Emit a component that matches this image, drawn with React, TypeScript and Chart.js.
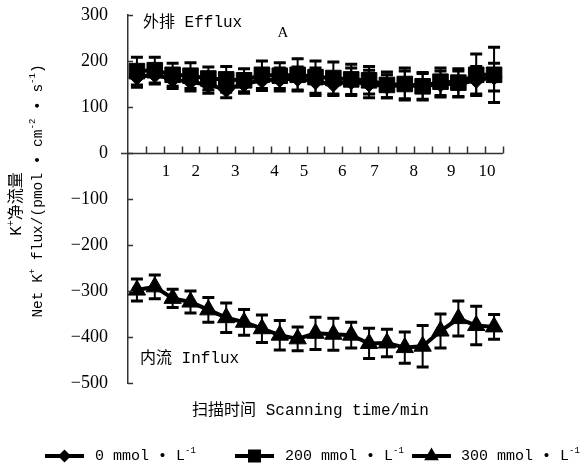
import React, { useEffect, useRef } from 'react';
import { Chart, registerables } from 'chart.js';

Chart.register(...registerables);

// ---------- data ----------
const scanIndex = [1, 2, 3, 4, 5, 6, 7, 8, 9, 10, 11, 12, 13, 14, 15, 16, 17, 18, 19, 20, 21];

const efflux0 = [165, 170, 160, 155, 148, 138, 150, 158, 160, 162, 155, 150, 155, 150, 145, 148, 145, 150, 150, 158, 165];
const efflux0Err = [22, 20, 20, 20, 18, 18, 20, 22, 25, 25, 30, 25, 30, 30, 25, 30, 28, 28, 28, 30, 30];

const efflux200 = [178, 180, 170, 168, 162, 160, 158, 170, 168, 170, 165, 163, 160, 158, 148, 150, 145, 155, 153, 170, 170];
const efflux200Err = [30, 28, 25, 28, 25, 28, 25, 30, 28, 35, 35, 35, 33, 30, 28, 35, 30, 30, 30, 45, 60];

const influx300 = [-298, -291, -316, -324, -341, -358, -368, -382, -396, -404, -392, -394, -396, -414, -413, -423, -420, -387, -360, -375, -378];
const influx300Err = [24, 26, 20, 24, 27, 32, 28, 30, 32, 26, 35, 35, 28, 33, 30, 34, 45, 37, 38, 42, 27];

const xTickLabels = ['1', '2', '3', '4', '5', '6', '7', '8', '9', '10'];
const xTickLabelPos = [2.13, 3.8, 6.0, 8.2, 9.85, 12.0, 13.8, 16.0, 18.1, 20.1];

const yMin = -500;
const yMax = 300;
const yStep = 100;

const seriesNames = ['0 mmol • L', '200 mmol • L', '300 mmol • L'];

// ---------- styling ----------
const MONO = '"Liberation Mono", "Noto Sans CJK SC", monospace';
const SERIF = '"Liberation Serif", "Noto Sans CJK SC", serif';
const AXIS = '#333';

type Seg = { t: string; sup?: boolean };

function segFont(size: number, sup?: boolean) {
  return `${sup ? Math.round(size * 0.62) : size}px ${MONO}`;
}
function richWidth(ctx: CanvasRenderingContext2D, segs: Seg[], size: number) {
  let w = 0;
  for (const s of segs) {
    ctx.font = segFont(size, s.sup);
    w += ctx.measureText(s.t).width;
  }
  return w;
}
function drawRich(ctx: CanvasRenderingContext2D, segs: Seg[], x: number, y: number, size: number, align: 'left' | 'center') {
  const w = richWidth(ctx, segs, size);
  let cx = align === 'center' ? x - w / 2 : x;
  ctx.textAlign = 'left';
  ctx.textBaseline = 'middle';
  ctx.fillStyle = '#000';
  for (const s of segs) {
    ctx.font = segFont(size, s.sup);
    ctx.fillText(s.t, cx, s.sup ? y - size * 0.38 : y);
    cx += ctx.measureText(s.t).width;
  }
}

function drawMarker(ctx: CanvasRenderingContext2D, style: string, x: number, y: number) {
  ctx.beginPath();
  if (style === 'rectRot') {
    const r = 6.5;
    ctx.moveTo(x, y - r); ctx.lineTo(x + r, y); ctx.lineTo(x, y + r); ctx.lineTo(x - r, y);
  } else if (style === 'rect') {
    const h = 6.5;
    ctx.rect(x - h, y - h, 2 * h, 2 * h);
  } else {
    const r = 8.5;
    ctx.moveTo(x, y - r); ctx.lineTo(x + r * 0.866, y + r * 0.5); ctx.lineTo(x - r * 0.866, y + r * 0.5);
  }
  ctx.closePath();
  ctx.fill();
}

const errs = [efflux0Err, efflux200Err, influx300Err];
const styles = ['rectRot', 'rect', 'triangle'];

const decorPlugin = {
  id: 'decor',
  afterDatasetsDraw(chart: any) {
    const ctx: CanvasRenderingContext2D = chart.ctx;
    const xs = chart.scales.x;
    const ys = chart.scales.y;
    ctx.save();
    ctx.strokeStyle = '#000';
    chart.data.datasets.forEach((ds: any, di: number) => {
      ds.data.forEach((p: any, j: number) => {
        const e = errs[di][j];
        const x = xs.getPixelForValue(p.x);
        const yt = ys.getPixelForValue(p.y + e);
        const yb = ys.getPixelForValue(p.y - e);
        ctx.lineWidth = 2;
        ctx.beginPath();
        ctx.moveTo(x, yt); ctx.lineTo(x, yb);
        ctx.stroke();
        ctx.lineWidth = 3;
        ctx.beginPath();
        ctx.moveTo(x - 6, yt); ctx.lineTo(x + 6, yt);
        ctx.moveTo(x - 6, yb); ctx.lineTo(x + 6, yb);
        ctx.stroke();
      });
    });
    ctx.restore();
  },
  afterDraw(chart: any) {
    const ctx: CanvasRenderingContext2D = chart.ctx;
    const xs = chart.scales.x;
    const ys = chart.scales.y;
    const area = chart.chartArea;
    ctx.save();
    // inner y ticks
    ctx.strokeStyle = AXIS;
    ctx.lineWidth = 1.5;
    for (let v = yMin; v <= yMax; v += yStep) {
      const y = Math.round(ys.getPixelForValue(v)) + 0.5;
      ctx.beginPath();
      ctx.moveTo(area.left, y); ctx.lineTo(area.left + 5, y);
      ctx.stroke();
    }
    // x axis line at y = 0, with upward ticks
    const y0 = Math.round(ys.getPixelForValue(0)) + 0.5;
    ctx.beginPath();
    ctx.moveTo(area.left - 7, y0); ctx.lineTo(area.right, y0);
    ctx.stroke();
    for (let k = 1; k <= scanIndex.length; k++) {
      const x = Math.round(xs.getPixelForValue(k)) + 0.5;
      ctx.beginPath();
      ctx.moveTo(x, y0); ctx.lineTo(x, y0 - 7);
      ctx.stroke();
    }
    // x tick labels
    ctx.font = `17px ${SERIF}`;
    ctx.textAlign = 'center';
    ctx.textBaseline = 'middle';
    ctx.fillStyle = '#000';
    xTickLabels.forEach((lab, i) => {
      ctx.fillText(lab, xs.getPixelForValue(xTickLabelPos[i]), y0 + 18);
    });
    // annotations
    drawRich(ctx, [{ t: '外排 Efflux' }], xs.getPixelForValue(0.84), ys.getPixelForValue(283), 16, 'left');
    ctx.font = `15px ${SERIF}`;
    ctx.textAlign = 'center';
    ctx.textBaseline = 'middle';
    ctx.fillStyle = '#000';
    ctx.fillText('A', xs.getPixelForValue(8.68), ys.getPixelForValue(261));
    drawRich(ctx, [{ t: '内流 Influx' }], xs.getPixelForValue(0.67), ys.getPixelForValue(-448), 16, 'left');
    // x title
    drawRich(ctx, [{ t: '扫描时间 Scanning time/min' }], (area.left + area.right) / 2 - 5, area.bottom + 28, 16, 'center');
    // y title
    ctx.save();
    ctx.translate(17, 204);
    ctx.rotate(-Math.PI / 2);
    drawRich(ctx, [{ t: 'K' }, { t: '+', sup: true }, { t: '净流量' }], 0, 0, 16, 'center');
    ctx.restore();
    ctx.save();
    ctx.translate(38, 191);
    ctx.rotate(-Math.PI / 2);
    drawRich(ctx, [{ t: 'Net K' }, { t: '+', sup: true }, { t: ' flux/(pmol • cm' }, { t: '-2', sup: true }, { t: ' • s' }, { t: '-1', sup: true }, { t: ')' }], 0, 0, 14.5, 'center');
    ctx.restore();
    // legend
    const ly = area.bottom + 73;
    const lx = [45, 235, 412];
    const tx = [95, 285, 461];
    for (let i = 0; i < 3; i++) {
      ctx.strokeStyle = '#000';
      ctx.fillStyle = '#000';
      ctx.lineWidth = 4;
      ctx.beginPath();
      ctx.moveTo(lx[i], ly); ctx.lineTo(lx[i] + 39, ly);
      ctx.stroke();
      drawMarker(ctx, styles[i], lx[i] + 19.5, ly);
      drawRich(ctx, [{ t: seriesNames[i] }, { t: '-1', sup: true }], tx[i], ly, 15, 'left');
    }
    ctx.restore();
  },
};

function makeDs(label: string, vals: number[], style: string, radius: number) {
  return {
    label,
    data: vals.map((v, i) => ({ x: scanIndex[i] - 0.5, y: v })),
    borderColor: '#000',
    backgroundColor: '#000',
    borderWidth: 4,
    pointStyle: style,
    pointRadius: radius,
    pointBackgroundColor: '#000',
    pointBorderColor: '#000',
    pointBorderWidth: 1,
    tension: 0,
    clip: false as any,
  };
}

export default function App() {
  const ref = useRef<HTMLCanvasElement>(null);
  useEffect(() => {
    if (!ref.current) return;
    const chart = new Chart(ref.current, {
      type: 'line',
      data: {
        datasets: [
          makeDs(seriesNames[0], efflux0, 'rectRot', 8),
          makeDs(seriesNames[1], efflux200, 'rect', 11),
          makeDs(seriesNames[2], influx300, 'triangle', 10),
        ],
      },
      options: {
        responsive: false,
        animation: false,
        layout: { padding: { top: 15, right: 80, bottom: 86, left: 0 } },
        plugins: { legend: { display: false }, tooltip: { enabled: false } },
        scales: {
          x: {
            type: 'linear',
            display: false,
            min: 0,
            max: scanIndex.length,
          },
          y: {
            min: yMin,
            max: yMax,
            ticks: {
              stepSize: yStep,
              callback: (v: any) => (v < 0 ? '−' + Math.abs(v) : String(v)),
              font: { family: SERIF, size: 18 },
              color: '#000',
              padding: 0,
            },
            grid: { display: true, drawOnChartArea: false, drawTicks: true, tickLength: 20, tickColor: 'rgba(0,0,0,0)' },
            border: { display: true, color: AXIS, width: 1.5 },
            afterFit: (s: any) => {
              s.width = 128;
            },
          },
        },
      },
      plugins: [decorPlugin],
    });
    return () => chart.destroy();
  }, []);
  return (
    <div style={{ position: 'fixed', left: 0, top: 0, width: 583, height: 469, background: '#fff' }}>
      <canvas ref={ref} width={583} height={469} />
    </div>
  );
}
